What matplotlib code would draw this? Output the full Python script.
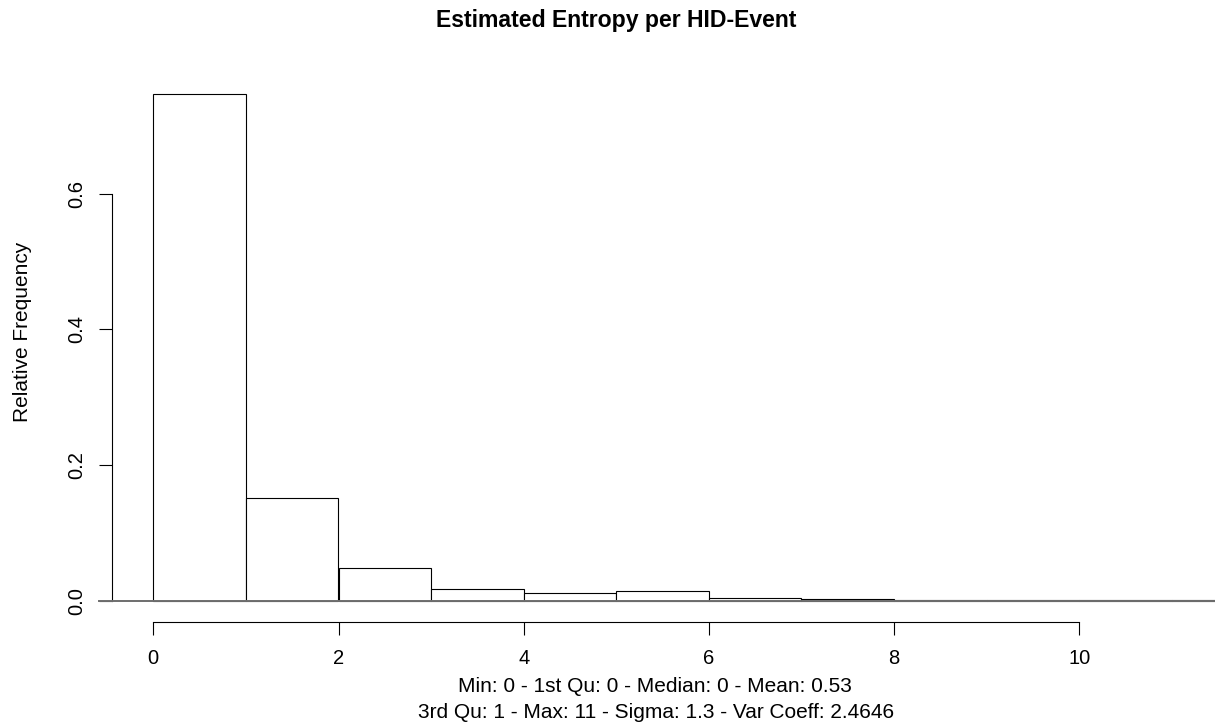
import matplotlib
matplotlib.use("Agg")
import matplotlib.pyplot as plt
import numpy as np

# ---- data ----
bin_edges = [0, 1, 2, 3, 4, 5, 6, 7, 8, 9, 10, 11, 12]
rel_freq = [0.747, 0.152, 0.0486, 0.0172, 0.0109, 0.0147,
            0.0035, 0.003, 0.0012, 0.001, 0.0008, 0.0015]
x_ticks = [0, 2, 4, 6, 8, 10]
y_ticks = [0.0, 0.2, 0.4, 0.6]
y_tick_labels = ["0.0", "0.2", "0.4", "0.6"]
title = "Estimated Entropy per HID-Event"
y_label = "Relative Frequency"
sub_lines = ["Min: 0 - 1st Qu: 0 - Median: 0 - Mean: 0.53",
             "3rd Qu: 1 - Max: 11 - Sigma: 1.3 - Var Coeff: 2.4646"]

plt.rcParams['font.family'] = ['Liberation Sans', 'DejaVu Sans']

W, H = 1215, 724
DPI = 100
fig = plt.figure(figsize=(W / DPI, H / DPI), dpi=DPI)
fig.patch.set_facecolor("white")

# axes placement in pixels
left_px, right_px = 112.3, 1215.0
bottom_px, top_px = 621.7, 73.8
ax = fig.add_axes([left_px / W, 1 - bottom_px / H,
                   (right_px - left_px) / W, (bottom_px - top_px) / H])
x0_px, xscale = 153.3, 92.6
y0_px, yscale = 600.7, 678.5
ax.set_xlim((left_px - x0_px) / xscale, (right_px - x0_px) / xscale)
ax.set_ylim(-(bottom_px - y0_px) / yscale, (y0_px - top_px) / yscale)
ax.set_facecolor("none")

# histogram bars
widths = np.diff(bin_edges)
ax.bar(bin_edges[:-1], rel_freq, width=widths, align="edge",
       facecolor="white", edgecolor="black", linewidth=0.8, zorder=2)

# baseline
ax.axhline(0, xmin=-13 / (right_px - left_px), xmax=1, color="#6e6e6e",
           linewidth=1.4, clip_on=False, zorder=3)

# spines as R-style axes
for s in ["top", "right"]:
    ax.spines[s].set_visible(False)
ax.spines["left"].set_bounds(y_ticks[0], y_ticks[-1])
ax.spines["bottom"].set_bounds(x_ticks[0], x_ticks[-1])
for s in ["left", "bottom"]:
    ax.spines[s].set_linewidth(0.8)
    ax.spines[s].set_color("black")

ax.set_xticks(x_ticks)
ax.set_xticklabels([str(v) for v in x_ticks])
ax.set_yticks(y_ticks)
ax.set_yticklabels(y_tick_labels, rotation=90, va="center")
ax.tick_params(axis="both", direction="out", length=9.4, width=0.8,
               colors="black", labelsize=14.5)
ax.tick_params(axis="x", pad=10.5)
ax.tick_params(axis="y", pad=9.0)

# texts
fig.text(616 / W, 1 - 21 / H, title, ha="center", va="center",
         fontsize=16.6, fontweight="bold")
fig.text(23 / W, 1 - 332 / H, y_label, ha="center", va="center",
         rotation=90, fontsize=15)
fig.text(655 / W, 1 - 686 / H, sub_lines[0], ha="center", va="center",
         fontsize=15)
fig.text(656 / W, 1 - 712 / H, sub_lines[1], ha="center", va="center",
         fontsize=15)

fig.savefig("out.png", dpi=DPI, facecolor="white")
